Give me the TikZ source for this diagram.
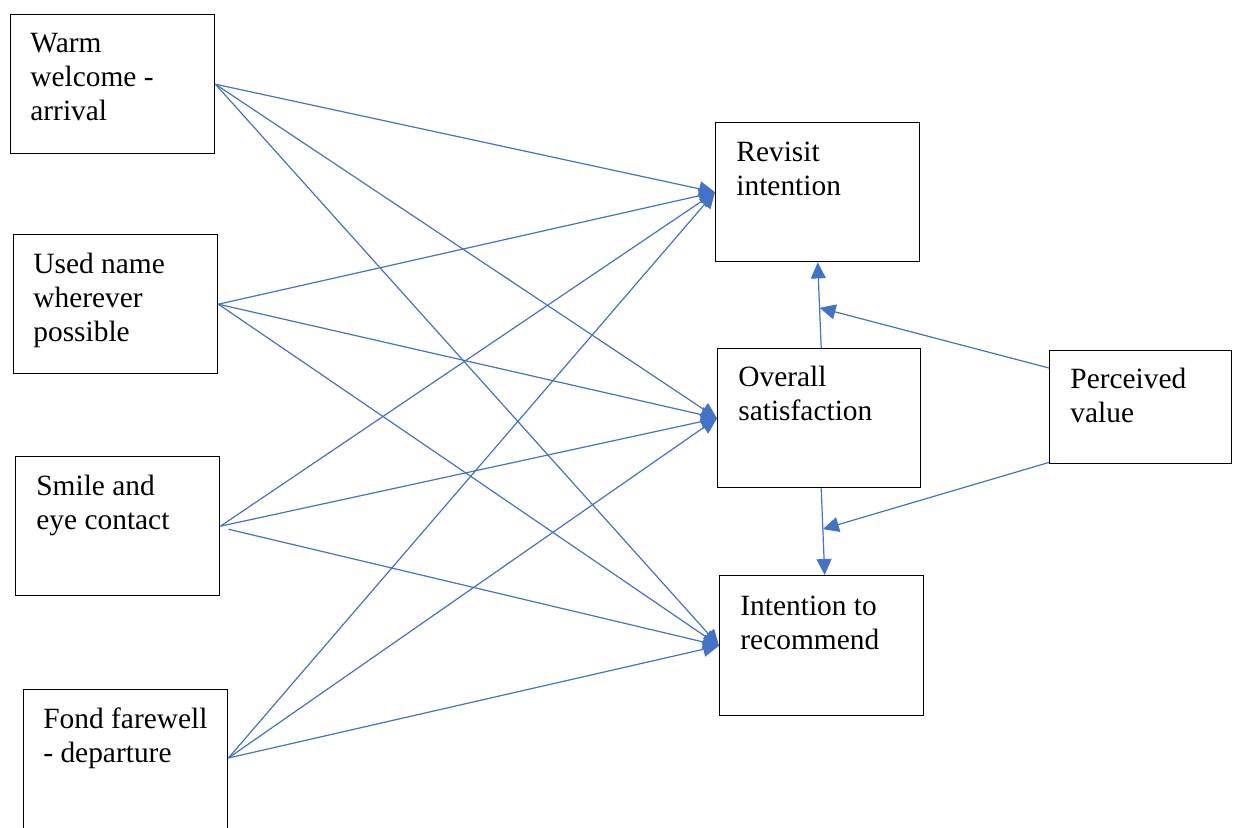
\documentclass[tikz,border=0pt]{standalone}
\usepackage{fontspec}
\setmainfont{Liberation Serif}
\usetikzlibrary{arrows.meta}
\definecolor{linkblue}{HTML}{4472C4}
\newcommand{\boxtext}[1]{\parbox[t]{95pt}{\fontsize{14.7pt}{17pt}\selectfont #1}}
\begin{document}
\begin{tikzpicture}[x=0.5pt,y=-0.5pt,
  box/.style={draw=black,line width=0.7pt,anchor=north west,inner sep=0pt,
    minimum width=102pt,minimum height=69.5pt},
  lbl/.style={anchor=base west,inner sep=0pt},
  link/.style={draw=linkblue,line width=0.6pt,
    -{Triangle[length=8pt,width=7.5pt]}}]
\useasboundingbox (0,0) rectangle (1236,827);

% predictor boxes
\node[box] (ww) at (10,14) {};
\node[box] (un) at (13,234) {};
\node[box] (se) at (15,456) {};
\node[box,minimum height=74pt] (ff) at (23,689) {};
% outcome boxes
\node[box] (ri) at (715,122) {};
\node[box,minimum width=101.5pt] (os) at (717,348) {};
\node[box,minimum height=70pt] (ir) at (719,575) {};
\node[box,minimum width=91pt,minimum height=56.5pt] (pv) at (1049,350) {};

% labels
\node[lbl] (wwT) at (30,52)   {\boxtext{Warm\\welcome -\\arrival}};
\node[lbl] (unT) at (33,273)  {\boxtext{Used name\\wherever\\possible}};
\node[lbl] (seT) at (36,495)  {\boxtext{Smile and\\eye contact}};
\node[lbl] (ffT) at (43,728)  {\boxtext{Fond farewell\\- departure}};
\node[lbl] (riT) at (736,161) {\boxtext{Revisit\\intention}};
\node[lbl] (osT) at (738,386) {\boxtext{Overall\\satisfaction}};
\node[lbl] (irT) at (740,615) {\boxtext{Intention to\\recommend}};
\node[lbl] (pvT) at (1070,388){\boxtext{Perceived\\value}};

% start points of the predictor links
\coordinate (wwE) at (ww.east);
\coordinate (unE) at (un.east);
\coordinate (seE) at (se.east);
\coordinate (ffE) at ([yshift=-34.5pt]ff.north east);

% predictor links
\foreach \s in {ww,un,ff}{
  \foreach \t in {ri,os,ir}{
    \draw[link] (\s E) -- (\t.west);
  }
}
\draw[link] (seE) -- (ri.west);
\draw[link] (seE) -- (os.west);
\draw[link] ([xshift=4pt,yshift=-1.5pt]seE) -- (ir.west);

% links between outcomes
\draw[link] ([xshift=1pt]os.north) -- coordinate[pos=0.47] (up) (ri.south);
\draw[link] ([xshift=1pt]os.south) -- coordinate[pos=0.47] (dn) ([xshift=1.5pt]ir.north);

% perceived value links
\coordinate (pvA) at ([yshift=-9pt]pv.north west);
\coordinate (pvB) at ([yshift=1pt]pv.south west);
\draw[link] (pvA) -- (up);
\draw[link] (pvB) -- (dn);
\end{tikzpicture}
\end{document}
